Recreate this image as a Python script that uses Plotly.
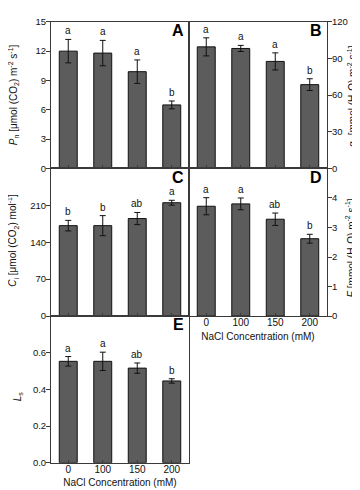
import plotly.graph_objects as go

W, H = 360, 490

categories = ["0", "100", "150", "200"]

pn_mean = [12.0, 11.8, 9.9, 6.5]
pn_err = [1.2, 1.3, 1.2, 0.4]
pn_sig = ["a", "a", "a", "b"]

gs_mean = [99.5, 98.2, 87.6, 68.6]
gs_err = [7.4, 2.5, 7.0, 4.8]
gs_sig = ["a", "a", "a", "b"]

ci_mean = [171.5, 171.5, 185.0, 215.0]
ci_err = [10.0, 19.0, 11.5, 4.6]
ci_sig = ["b", "b", "ab", "a"]

e_mean = [3.72, 3.80, 3.28, 2.62]
e_err = [0.29, 0.20, 0.21, 0.15]
e_sig = ["a", "a", "ab", "b"]

ls_mean = [0.553, 0.553, 0.516, 0.446]
ls_err = [0.026, 0.050, 0.028, 0.012]
ls_sig = ["a", "a", "ab", "b"]

FONT = "Liberation Sans, Arial, sans-serif"
BAR = "#5c5c5c"
LINE = "#3a3a3a"
TXT = "#111111"

def px_x(p):
    return p / W

def px_y(p):
    return 1 - p / H

panels = [
    ("A", pn_mean, pn_err, pn_sig, (43, 181), (8, 158), [0, 15], [0, 3, 6, 9, 12, 15], "left",
     "<i>P</i><sub>n</sub> [μmol (CO<sub>2</sub>) m<sup>-2</sup> s<sup>-1</sup>]", (5, 83)),
    ("B", gs_mean, gs_err, gs_sig, (181, 319), (8, 158), [0, 120], [0, 30, 60, 90, 120], "right",
     "<i>g</i><sub>s</sub> [mmol (H<sub>2</sub>O) m<sup>-2</sup> s<sup>-1</sup>]", (344, 84)),
    ("C", ci_mean, ci_err, ci_sig, (43, 181), (158, 309), [0, 280], [0, 70, 140, 210], "left",
     "<i>C</i><sub>i</sub> [μmol (CO<sub>2</sub>) mol<sup>-1</sup>]", (5, 232)),
    ("D", e_mean, e_err, e_sig, (181, 319), (158, 309), [0, 5], [0, 1, 2, 3, 4], "right",
     "<i>E</i> [mmol (H<sub>2</sub>O) m<sup>-2</sup> s<sup>-1</sup>]", (343, 240)),
    ("E", ls_mean, ls_err, ls_sig, (43, 181), (309, 459), [0, 0.8], [0, 0.2, 0.4, 0.6], "left",
     "<i>L</i><sub>s</sub>", (10, 391)),
]

fig = go.Figure()
annotations = []
layout = {}

for i, (name, means, errs, sig, xd, yd, yr, yt, side, ytitle, tpos) in enumerate(panels):
    n = i + 1
    xa = "x" if n == 1 else f"x{n}"
    ya = "y" if n == 1 else f"y{n}"
    xkey = "xaxis" if n == 1 else f"xaxis{n}"
    ykey = "yaxis" if n == 1 else f"yaxis{n}"

    fig.add_trace(go.Bar(
        x=categories, y=means, xaxis=xa, yaxis=ya, width=0.52,
        marker=dict(color=BAR, line=dict(color="#111111", width=1)),
        error_y=dict(type="data", array=errs, color="#111111", thickness=1, width=3),
        showlegend=False, hoverinfo="skip",
    ))

    show_xlabels = name in ("D", "E")
    xax = dict(
        domain=[px_x(xd[0]), px_x(xd[1])], anchor=ya,
        type="category", range=[-0.5, 3.5],
        showline=True, linecolor=LINE, linewidth=1, mirror=True,
        ticks="inside", ticklen=3, tickcolor=LINE,
        showticklabels=show_xlabels, showgrid=False, zeroline=False,
        ticklabelstandoff=-3,
        tickfont=dict(family=FONT, size=10, color=TXT),
        fixedrange=True,
    )
    if show_xlabels:
        xax["title"] = dict(text="NaCl Concentration (mM)",
                            font=dict(family=FONT, size=10, color=TXT), standoff=5)
    layout[xkey] = xax

    ticktext = [("%g" % v) if name != "E" else ("%.1f" % v) for v in yt]
    layout[ykey] = dict(
        domain=[px_y(yd[1]), px_y(yd[0])], anchor=xa, side=side,
        range=yr, tickvals=yt, ticktext=ticktext,
        showline=True, linecolor=LINE, linewidth=1, mirror=True,
        ticks="outside", ticklen=4, tickcolor=LINE,
        ticklabelstandoff=-2,
        showgrid=False, zeroline=False,
        tickfont=dict(family=FONT, size=9.5, color=TXT),
        fixedrange=True,
    )

    for j, (m, e, s) in enumerate(zip(means, errs, sig)):
        annotations.append(dict(
            x=j, y=m + e, xref=xa, yref=ya, text=s, showarrow=False,
            yanchor="bottom", yshift=1,
            font=dict(family=FONT, size=10, color=TXT),
        ))

    lx = xd[1] - 11
    ly = yd[0] + 9
    annotations.append(dict(
        x=px_x(lx), y=px_y(ly), xref="paper", yref="paper", text=f"<b>{name}</b>",
        showarrow=False, xanchor="center", yanchor="middle",
        font=dict(family=FONT, size=16, color="#000"),
    ))

    annotations.append(dict(
        x=px_x(tpos[0]), y=px_y(tpos[1]), xref="paper", yref="paper", text=ytitle,
        showarrow=False, xanchor="center", yanchor="middle", textangle=-90,
        font=dict(family=FONT, size=10, color=TXT),
    ))

fig.update_layout(
    width=W, height=H,
    margin=dict(l=0, r=0, t=0, b=0),
    paper_bgcolor="white", plot_bgcolor="white",
    annotations=annotations,
    bargap=0.48,
    **layout,
)

fig.write_html("out.html", config={"displayModeBar": False})
